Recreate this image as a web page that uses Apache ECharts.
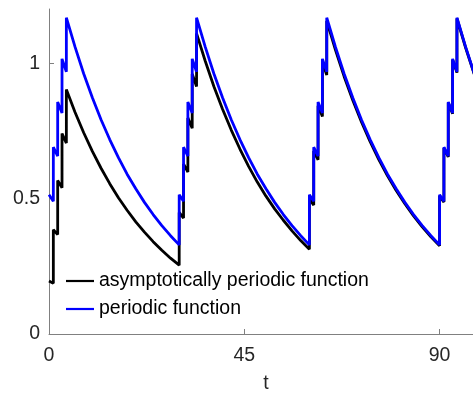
<!DOCTYPE html>
<html>
<head>
<meta charset="utf-8">
<script src="https://cdn.jsdelivr.net/npm/echarts@6/dist/echarts.min.js"></script>
<style>
html,body{margin:0;padding:0;background:#fff;}
#chart{width:473px;height:394px;}
</style>
</head>
<body>
<div id="chart"></div>
<script>
// time points (duplicated times are the impulsive jumps)
const tValues = [
  0,1,1,2,2,3,3,4,4,6,8,10,12,14,16,18,20,22,24,26,28,30,
  30,31,31,32,32,33,33,34,34,36,38,40,42,44,46,48,50,52,54,56,58,60,
  60,61,61,62,62,63,63,64,64,66,68,70,72,74,76,78,80,82,84,86,88,90,
  90,91,91,92,92,93,93,94,94,96,98,100
];
const asymptoticValues = [
  0.196,0.187,0.385,0.367,0.567,0.540,0.740,0.705,0.903,0.819,0.743,0.674,0.612,0.555,0.503,0.457,0.414,0.376,0.341,0.309,0.280,0.254,
  0.449,0.428,0.628,0.598,0.798,0.760,0.960,0.914,1.110,1.008,0.914,0.830,0.753,0.683,0.619,0.561,0.509,0.462,0.420,0.381,0.345,0.313,
  0.499,0.476,0.676,0.643,0.843,0.803,1.003,0.956,1.156,1.049,0.951,0.863,0.783,0.710,0.644,0.584,0.530,0.481,0.436,0.396,0.359,0.326,
  0.510,0.487,0.687,0.654,0.854,0.813,1.013,0.965,1.165,1.057,0.959,0.870
];
const periodicValues = [
  0.514,0.490,0.690,0.657,0.857,0.816,1.016,0.968,1.168,1.060,0.961,0.872,0.791,0.718,0.651,0.590,0.536,0.486,0.441,0.400,0.363,0.329,
  0.514,0.490,0.690,0.657,0.857,0.816,1.016,0.968,1.168,1.060,0.961,0.872,0.791,0.718,0.651,0.590,0.536,0.486,0.441,0.400,0.363,0.329,
  0.514,0.490,0.690,0.657,0.857,0.816,1.016,0.968,1.168,1.060,0.961,0.872,0.791,0.718,0.651,0.590,0.536,0.486,0.441,0.400,0.363,0.329,
  0.514,0.490,0.690,0.657,0.857,0.816,1.016,0.968,1.168,1.060,0.961,0.872
];
const seriesNames = ['asymptotically periodic function', 'periodic function'];
const xTicks = [0, 45, 90];
const yTicks = [0, 0.5, 1];

const pairs = vals => tValues.map((t, i) => [t, vals[i]]);
const font = '"Liberation Sans", Arial, Helvetica, sans-serif';
const axisGray = '#808080';
const textGray = '#262626';
const lineIcon = 'path://M0,0 L28,0 L28,2.2 L0,2.2 Z';

const chart = echarts.init(document.getElementById('chart'), null, {renderer: 'canvas'});
chart.setOption({
  animation: false,
  backgroundColor: '#fff',
  grid: {left: 49, top: 9, right: 0, height: 325, containLabel: false, outerBoundsMode: 'none'},
  legend: {
    data: [
      {name: seriesNames[0], icon: lineIcon},
      {name: seriesNames[1], icon: lineIcon}
    ],
    orient: 'vertical',
    left: 66, top: 271,
    padding: 0,
    itemWidth: 28, itemHeight: 2.2, itemGap: 8,
    textStyle: {fontFamily: font, fontSize: 19.5, color: '#000', lineHeight: 19},
    selectedMode: false
  },
  xAxis: {
    type: 'value', min: 0, max: 97.7,
    name: 't', nameLocation: 'middle', nameGap: 40,
    nameTextStyle: {fontFamily: font, fontSize: 19.5, color: textGray, padding: [0, 0, 0, 10]},
    axisLine: {lineStyle: {color: axisGray, width: 1}},
    axisTick: {inside: true, length: 5, customValues: xTicks, lineStyle: {color: axisGray}},
    axisLabel: {customValues: xTicks, margin: 12, fontFamily: font, fontSize: 19.5, color: textGray},
    splitLine: {show: false}
  },
  yAxis: {
    type: 'value', min: 0, max: 1.2,
    axisLine: {show: true, lineStyle: {color: axisGray, width: 1}},
    axisTick: {show: true, inside: true, length: 5, customValues: yTicks, lineStyle: {color: axisGray}},
    axisLabel: {customValues: yTicks, margin: 9, padding: [5, 0, 0, 0], fontFamily: font, fontSize: 19.5, color: textGray},
    splitLine: {show: false}
  },
  series: [
    {name: seriesNames[0], type: 'line', data: pairs(asymptoticValues), symbol: 'none', showSymbol: false,
     lineStyle: {color: '#000000', width: 2.8}, itemStyle: {color: '#000000'}},
    {name: seriesNames[1], type: 'line', data: pairs(periodicValues), symbol: 'none', showSymbol: false,
     lineStyle: {color: '#0000ff', width: 2.8}, itemStyle: {color: '#0000ff'}}
  ]
});
</script>
</body>
</html>
